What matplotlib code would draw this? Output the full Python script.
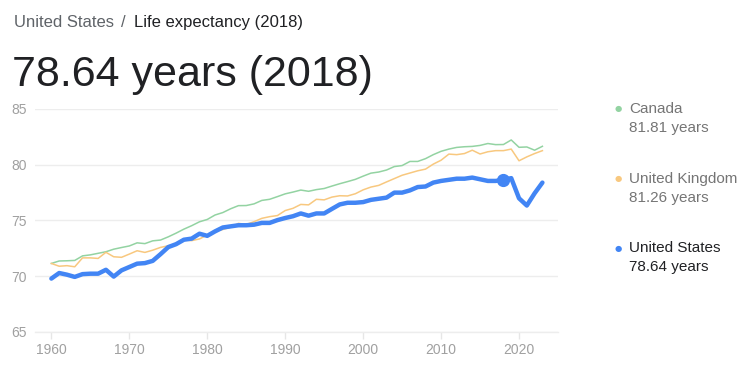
import matplotlib
matplotlib.use("Agg")
import matplotlib.pyplot as plt

years = list(range(1960, 2024))

canada = [71.13, 71.35, 71.37, 71.40, 71.81, 71.90, 72.04, 72.18, 72.41, 72.56,
          72.70, 72.98, 72.91, 73.16, 73.23, 73.52, 73.85, 74.21, 74.52, 74.87,
          75.08, 75.48, 75.70, 76.04, 76.32, 76.33, 76.48, 76.79, 76.89, 77.13,
          77.38, 77.54, 77.72, 77.61, 77.76, 77.86, 78.08, 78.29, 78.48, 78.68,
          78.97, 79.24, 79.34, 79.52, 79.83, 79.92, 80.29, 80.29, 80.54, 80.90,
          81.20, 81.40, 81.55, 81.61, 81.64, 81.73, 81.90, 81.80, 81.81, 82.22,
          81.56, 81.59, 81.30, 81.65]

uk = [71.13, 70.88, 70.93, 70.83, 71.63, 71.63, 71.58, 72.13, 71.73, 71.68,
      71.97, 72.27, 72.12, 72.32, 72.57, 72.72, 72.83, 73.23, 73.18, 73.33,
      73.68, 74.03, 74.18, 74.38, 74.73, 74.63, 74.88, 75.18, 75.33, 75.43,
      75.88, 76.08, 76.43, 76.39, 76.89, 76.84, 77.09, 77.21, 77.19, 77.39,
      77.74, 77.99, 78.14, 78.45, 78.75, 79.05, 79.25, 79.45, 79.60, 80.05,
      80.40, 80.95, 80.90, 81.00, 81.30, 80.96, 81.16, 81.26, 81.26, 81.40,
      80.35, 80.70, 81.00, 81.26]

us = [69.77, 70.27, 70.12, 69.92, 70.17, 70.21, 70.21, 70.56, 69.95, 70.51,
      70.81, 71.11, 71.16, 71.36, 71.96, 72.60, 72.86, 73.26, 73.36, 73.80,
      73.61, 74.01, 74.36, 74.46, 74.56, 74.56, 74.61, 74.77, 74.77, 75.02,
      75.21, 75.37, 75.62, 75.42, 75.62, 75.62, 76.03, 76.43, 76.58, 76.58,
      76.64, 76.84, 76.94, 77.04, 77.49, 77.49, 77.69, 77.99, 78.04, 78.39,
      78.54, 78.64, 78.74, 78.74, 78.84, 78.69, 78.54, 78.54, 78.64, 78.79,
      76.98, 76.33, 77.43, 78.39]

highlight_year = 2018
highlight_value = 78.64

x_ticks = [1960, 1970, 1980, 1990, 2000, 2010, 2020]
y_ticks = [65, 70, 75, 80, 85]

legend_names = ["Canada", "United Kingdom", "United States"]
legend_values = ["81.81 years", "81.26 years", "78.64 years"]

C_CAN = "#93d3a2"
C_UK = "#f8c87f"
C_US = "#4285f4"

plt.rcParams['font.family'] = ['Liberation Sans', 'DejaVu Sans']

fig = plt.figure(figsize=(7.5, 3.7), dpi=100)
ax = fig.add_axes([35/750, 1-331.7/370, (558-35)/750, (331.7-109)/370])

ax.plot(years, canada, color=C_CAN, lw=1.1, solid_joinstyle='round', zorder=3)
ax.plot(years, uk, color=C_UK, lw=1.1, solid_joinstyle='round', zorder=3)
ax.plot(years, us, color=C_US, lw=3.2, solid_joinstyle='round',
        solid_capstyle='round', zorder=4)
ax.plot([highlight_year], [highlight_value], 'o', color=C_US, ms=8.5, zorder=5)

ax.set_xlim(1957.9, 2025)
ax.set_ylim(65, 85)
ax.set_yticks(y_ticks)
ax.set_xticks(x_ticks)
ax.grid(axis='y', color='#ededed', lw=1)
ax.set_axisbelow(True)
for s in ['top', 'right', 'left']:
    ax.spines[s].set_visible(False)
ax.spines['bottom'].set_color('#ededed')
ax.spines['bottom'].set_linewidth(1)
ax.tick_params(axis='x', colors='#e6e6e6', length=5, width=1, labelsize=10, pad=3)
ax.tick_params(axis='y', length=0, labelsize=10, pad=6)
for t in ax.get_xticklabels() + ax.get_yticklabels():
    t.set_color('#a0a0a0')

# header
fig.text(14/750, 1-27/370, "United States", fontsize=12, color='#5f6368', va='baseline')
fig.text(121/750, 1-27/370, "/", fontsize=12, color='#5f6368', va='baseline')
fig.text(134/750, 1-27/370, "Life expectancy (2018)", fontsize=12, color='#202124', va='baseline')
fig.text(12/750, 1-86/370, "78.64 years (2018)", fontsize=31, color='#202124', va='baseline')

# legend
leg_y = [109, 179, 248]
leg_cols = [C_CAN, C_UK, C_US]
name_cols = ['#757575', '#757575', '#202124']
for yy, c, n, v, nc in zip(leg_y, leg_cols, legend_names, legend_values, name_cols):
    fig.text(618/750, 1-yy/370, "\u25cf", fontsize=6, color=c, va='center', ha='center',
             family='DejaVu Sans')
    fig.text(629/750, 1-yy/370, n, fontsize=11, color=nc, va='center')
    fig.text(629/750, 1-(yy+19)/370, v, fontsize=11, color=nc, va='center')

fig.savefig("out.png", dpi=100, facecolor='white')
